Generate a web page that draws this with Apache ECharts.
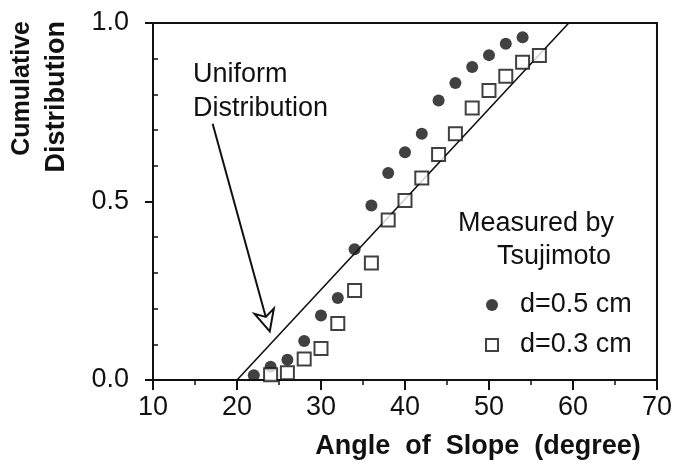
<!DOCTYPE html>
<html>
<head>
<meta charset="utf-8">
<script src="https://cdn.jsdelivr.net/npm/echarts@6/dist/echarts.min.js"></script>
<style>
  html, body { margin: 0; padding: 0; background: #fff; }
  #chart { width: 675px; height: 471px; }
</style>
</head>
<body>
<div id="chart"></div>
<script>
// Slope angles (degrees) and cumulative fractions, grain size d = 0.5 cm
const angles05 = [22, 24, 26, 28, 30, 32, 34, 36, 38, 40, 42, 44, 46, 48, 50, 52, 54];
const cdf05 = [0.013, 0.037, 0.057, 0.109, 0.181, 0.230, 0.366, 0.489, 0.580, 0.638, 0.690, 0.783, 0.832, 0.877, 0.910, 0.942, 0.960];

// Grain size d = 0.3 cm
const angles03 = [24, 26, 28, 30, 32, 34, 36, 38, 40, 42, 44, 46, 48, 50, 52, 54, 56];
const cdf03 = [0.015, 0.020, 0.059, 0.088, 0.158, 0.251, 0.328, 0.448, 0.503, 0.566, 0.632, 0.690, 0.762, 0.811, 0.851, 0.890, 0.909];

// Uniform distribution reference CDF
const uniformAngles = [10, 20, 59.5];
const uniformCdf = [0, 0, 1];

// Axis ticks
const xTicks = [10, 20, 30, 40, 50, 60, 70];
const yTicks = [0, 0.5, 1.0];
const yMinorTicks = [0.1, 0.2, 0.3, 0.4, 0.6, 0.7, 0.8, 0.9];

// Annotation arrow, in data units: tail and tip
const arrowTail = [17.1, 0.718];
const arrowTip = [23.9, 0.136];

const INK = '#111111';
const FONT = 'Liberation Sans';

const pairs = (xs, ys) => xs.map((x, i) => [x, ys[i]]);

const chart = echarts.init(document.getElementById('chart'), null, { renderer: 'canvas' });

const option = {
  animation: false,
  backgroundColor: '#fff',
  grid: {
    left: 153, right: 17, top: 23, bottom: 91,
    show: true, borderColor: INK, borderWidth: 2, backgroundColor: 'transparent'
  },
  xAxis: {
    type: 'value',
    min: xTicks[0], max: xTicks[xTicks.length - 1], interval: 10,
    axisLine: { show: true, onZero: false, lineStyle: { color: INK, width: 2 } },
    axisTick: { show: true, inside: false, length: 10, lineStyle: { color: INK, width: 2 } },
    minorTick: { show: true, splitNumber: 2, length: 5, lineStyle: { color: INK, width: 1.5 } },
    splitLine: { show: false },
    axisLabel: { color: INK, fontFamily: FONT, fontSize: 27, margin: 14 }
  },
  yAxis: [
    {
      type: 'value',
      min: yTicks[0], max: yTicks[yTicks.length - 1], interval: 0.5,
      axisLine: { show: true, onZero: false, lineStyle: { color: INK, width: 2 } },
      axisTick: { show: true, inside: false, length: 8, lineStyle: { color: INK, width: 2 } },
      splitLine: { show: false },
      axisLabel: {
        color: INK, fontFamily: FONT, fontSize: 27, margin: 24,
        formatter: v => v.toFixed(1)
      }
    },
    {
      type: 'value',
      min: 0, max: 1, interval: 0.1,
      position: 'left',
      axisLine: { show: false },
      axisTick: { show: true, inside: true, length: 5, customValues: yMinorTicks, lineStyle: { color: INK, width: 1.5 } },
      axisLabel: { show: false },
      splitLine: { show: false }
    }
  ],
  legend: {
    orient: 'vertical',
    left: 480, top: 285,
    itemWidth: 12, itemHeight: 12, itemGap: 10,
    textStyle: { color: INK, fontFamily: FONT, fontSize: 27, lineHeight: 30, padding: [0, 0, 0, 17] },
    data: [
      { name: 'd=0.5 cm', icon: 'circle' },
      { name: 'd=0.3 cm', icon: 'rect' }
    ]
  },
  series: [
    {
      name: 'Uniform Distribution',
      type: 'line',
      data: pairs(uniformAngles, uniformCdf),
      showSymbol: false,
      symbol: 'none',
      lineStyle: { color: INK, width: 1.6 },
      z: 1
    },
    {
      name: 'd=0.5 cm',
      type: 'scatter',
      data: pairs(angles05, cdf05),
      symbol: 'circle',
      symbolSize: 12,
      itemStyle: { color: INK },
      z: 2
    },
    {
      name: 'd=0.3 cm',
      type: 'scatter',
      data: pairs(angles03, cdf03),
      symbol: 'rect',
      symbolSize: 13,
      itemStyle: { color: '#fff', borderColor: INK, borderWidth: 2 },
      z: 3
    }
  ]
};

chart.setOption(option);

// Annotations drawn after layout so the arrow follows the data scale
const tail = chart.convertToPixel({ gridIndex: 0 }, arrowTail);
const tip = chart.convertToPixel({ gridIndex: 0 }, arrowTip);
const dx = tip[0] - tail[0], dy = tip[1] - tail[1];
const len = Math.hypot(dx, dy);
const ux = dx / len, uy = dy / len;
const px = -uy, py = ux;
const headLen = 21, headHalf = 10, notch = 6;
const baseX = tip[0] - ux * headLen, baseY = tip[1] - uy * headLen;
const head = [
  [tip[0], tip[1]],
  [baseX + px * headHalf, baseY + py * headHalf],
  [baseX + ux * notch, baseY + uy * notch],
  [baseX - px * headHalf, baseY - py * headHalf]
];

const textStyle = (text, size, weight) => ({
  text, fill: INK, font: `${weight || 'normal'} ${size}px "${FONT}"`
});

chart.setOption({
  graphic: [
    // Y axis title, two rotated lines
    {
      type: 'text', x: 22, y: 21, rotation: Math.PI / 2,
      style: Object.assign(textStyle('Cumulative', 25, 'bold'), { align: 'right', verticalAlign: 'middle' })
    },
    {
      type: 'text', x: 57, y: 21, rotation: Math.PI / 2,
      style: Object.assign(textStyle('Distribution', 27, 'bold'), { align: 'right', verticalAlign: 'middle' })
    },
    // X axis title
    {
      type: 'text', x: 478, y: 447,
      style: Object.assign(textStyle('Angle  of  Slope  (degree)', 27, 'bold'), { align: 'center', verticalAlign: 'middle' })
    },
    // Reference line caption
    {
      type: 'text', x: 193, y: 75,
      style: Object.assign(textStyle('Uniform', 27), { align: 'left', verticalAlign: 'middle' })
    },
    {
      type: 'text', x: 193, y: 109,
      style: Object.assign(textStyle('Distribution', 27), { align: 'left', verticalAlign: 'middle' })
    },
    // Arrow pointing at the uniform line
    {
      type: 'line', z: 10,
      shape: { x1: tail[0], y1: tail[1], x2: baseX + ux * notch, y2: baseY + uy * notch },
      style: { stroke: INK, lineWidth: 2 }
    },
    {
      type: 'polygon', z: 11,
      shape: { points: head },
      style: { fill: '#fff', stroke: INK, lineWidth: 2, lineJoin: 'miter' }
    },
    // Legend heading
    {
      type: 'text', x: 458, y: 224,
      style: Object.assign(textStyle('Measured by', 27), { align: 'left', verticalAlign: 'middle' })
    },
    {
      type: 'text', x: 497, y: 257,
      style: Object.assign(textStyle('Tsujimoto', 27), { align: 'left', verticalAlign: 'middle' })
    }
  ]
});
</script>
</body>
</html>
